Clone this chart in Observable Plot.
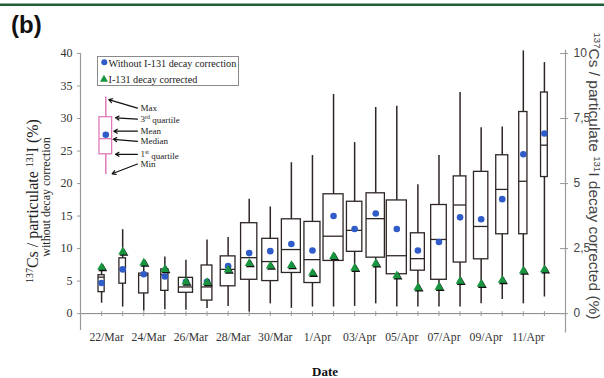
<!DOCTYPE html>
<html><head><meta charset="utf-8">
<script src="https://cdn.jsdelivr.net/npm/d3@7"></script>
<script src="https://cdn.jsdelivr.net/npm/@observablehq/plot@0.6"></script>
<style>
html,body{margin:0;padding:0;background:#fff;}
#wrap{position:relative;width:604px;height:378px;overflow:hidden;}
</style></head><body><div id="wrap"></div>
<script>
// ---- data ----
const dates = ["22/Mar","23/Mar","24/Mar","25/Mar","26/Mar","27/Mar","28/Mar","29/Mar","30/Mar","31/Mar",
  "1/Apr","02/Apr","03/Apr","04/Apr","05/Apr","06/Apr","07/Apr","08/Apr","09/Apr","10/Apr","11/Apr","12/Apr"];
const labelledDates = ["22/Mar","24/Mar","26/Mar","28/Mar","30/Mar","1/Apr","03/Apr","05/Apr","07/Apr","09/Apr","11/Apr"];
const whiskerMin = [1.6,1.0,0.4,0.6,0.5,0.8,1.1,0.25,1.5,0.8,1.0,1.0,1.1,1.5,1.0,1.0,1.0,1.0,1.5,2.15,1.5,2.55];
const quartile1  = [3.3,4.6,3.1,3.5,3.2,2.0,4.2,5.2,5.0,6.25,4.7,8.1,9.5,8.6,6.05,6.6,5.2,7.85,8.35,12.2,12.2,21.0];
const median     = [5.6,6.8,5.9,6.0,4.1,4.1,6.8,8.6,8.0,9.85,8.3,11.9,12.8,14.6,8.9,8.45,11.4,16.7,13.4,19.1,20.35,25.9];
const quartile3  = [5.9,8.5,6.15,6.8,5.5,7.4,8.8,13.9,11.5,14.5,14.1,18.35,17.2,18.5,17.4,12.35,16.7,21.1,21.8,24.35,31.0,34.0];
const whiskerMax = [7.3,12.9,7.9,8.7,8.2,11.3,11.7,17.6,16.4,23.2,24.3,33.7,26.3,31.7,31.9,19.8,24.3,34.0,28.6,28.7,40.4,38.6];
const meanWithoutCorrection = [4.7,6.8,6.05,5.7,4.9,4.9,7.3,9.3,9.6,10.7,9.7,15.0,13.0,15.4,13.0,9.7,11.0,14.8,14.5,17.6,24.5,27.7];
const meanDecayCorrected    = [1.78,2.37,1.95,1.7,1.22,1.2,1.68,1.93,1.83,1.85,1.56,2.2,1.75,1.92,1.46,1.0,1.02,1.25,1.13,1.28,1.64,1.69];
// relative sample weight (box width as share of one day)
const sampleWeight = [0.29,0.31,0.44,0.34,0.67,0.51,0.70,0.77,0.76,0.90,0.76,0.95,0.73,0.87,0.95,0.66,0.74,0.60,0.68,0.57,0.39,0.32];
const leftTicks = [0,5,10,15,20,25,30,35,40];
const rightTicks = [0,2.5,5,7.5,10];
const rightTickLabels = ["0","2,5","5","7,5","10"];
// schematic key box
const keyStats = {min:21.4, q1:24.5, median:26.9, mean:27.5, q3:30.2, max:33.3};
const keyNotes = [
  {label:"Max", labelY:31.6, tipY:32.9, tipX:0.34},
  {label:"3rd quartile", labelY:29.9, tipY:30.1, tipX:0.66},
  {label:"Mean", labelY:28.05, tipY:28.05, tipX:0.58},
  {label:"Median", labelY:26.5, tipY:26.8, tipX:0.55},
  {label:"1st quartile", labelY:24.5, tipY:24.5, tipX:0.66},
  {label:"Min", labelY:23.0, tipY:21.5, tipX:0.50}
];
const legendItems = ["Without I-131 decay correction","I-131 decay corrected"];

// ---- build ----
const RATIO = 4; // left axis 40 ⇔ right axis 10
const rows = dates.map((d,i)=>({i, date:d, min:whiskerMin[i], q1:quartile1[i], med:median[i], q3:quartile3[i],
  max:whiskerMax[i], mean:meanWithoutCorrection[i], corr:meanDecayCorrected[i]*RATIO, w:sampleWeight[i]}));
const keyX = 0.2, keyW = 0.6;
const serif = "Liberation Serif, Times New Roman, serif";
const sans = "Liberation Sans, Arial, sans-serif";
const ink = "#2e2624", pink = "#e07cbb", blue = "#2f5cc8", green = "#17963f";

const plot = Plot.plot({
  width:604, height:378,
  marginLeft:80, marginRight:39, marginTop:53, marginBottom:48,
  x:{type:"linear", domain:[-1,22], axis:null},
  y:{domain:[-2.6,40], axis:null},
  style:{background:"transparent", overflow:"visible"},
  marks:[
    Plot.ruleY([0], {stroke:"#8c8484", strokeWidth:1}),
    Plot.ruleX(rows, {x:"i", y1:0, y2:0, insetTop:-2, insetBottom:-3, stroke:"#9a9a9a"}),
    Plot.ruleX([-1], {y1:-2.6, y2:40, stroke:"#9a9a9a", strokeWidth:1.2}),
    Plot.ruleX([22], {y1:-3.0, y2:40.5, stroke:"#9a9a9a", strokeWidth:1.2}),
    Plot.axisY({anchor:"left", ticks:leftTicks, tickSize:3, tickPadding:5, stroke:"#9a9a9a", fill:"#333",
      fontFamily:serif, fontSize:12}),
    Plot.ruleY(rightTicks.map(v=>v*RATIO), {y:d=>d, x1:22, x2:22, insetLeft:-5, insetRight:-3, stroke:"#9a9a9a"}),
    Plot.axisY({anchor:"right", ticks:rightTicks.map(v=>v*RATIO), tickSize:0, tickPadding:8, fill:"#444",
      tickFormat:d=>rightTickLabels[rightTicks.indexOf(d/RATIO)], fontFamily:sans, fontSize:12}),
    Plot.axisX({anchor:"bottom", ticks:labelledDates.map(l=>dates.indexOf(l)), tickFormat:d=>dates[d],
      tickSize:0, tickPadding:2, dx:5, fill:"#333", fontFamily:serif, fontSize:11.7}),
    // boxes
    Plot.ruleX(rows, {x:"i", y1:"min", y2:"max", stroke:ink, strokeWidth:1.5}),
    Plot.rect(rows, {x1:d=>d.i-d.w/2, x2:d=>d.i+d.w/2, y1:"q1", y2:"q3", fill:"white", stroke:ink, strokeWidth:1.3}),
    Plot.ruleY(rows, {y:"med", x1:d=>d.i-d.w/2, x2:d=>d.i+d.w/2, stroke:ink, strokeWidth:1.3}),
    Plot.dot(rows, {x:"i", y:"mean", r:3.3, fill:blue}),
    Plot.dot(rows, {x:"i", y:"corr", symbol:"triangle", r:3.3, fill:"#111", dx:1.2, dy:1.3}),
    Plot.dot(rows, {x:"i", y:"corr", symbol:"triangle", r:3.3, fill:green}),
    // schematic key
    Plot.ruleX([keyStats], {x:keyX, y1:"min", y2:"max", stroke:pink, strokeWidth:1.5}),
    Plot.rect([keyStats], {x1:keyX-keyW/2, x2:keyX+keyW/2, y1:"q1", y2:"q3", fill:"white", stroke:pink, strokeWidth:1.3}),
    Plot.ruleY([keyStats], {y:"median", x1:keyX-keyW/2, x2:keyX+keyW/2, stroke:pink, strokeWidth:1.3}),
    Plot.dot([keyStats], {x:keyX, y:"mean", r:3.3, fill:blue}),
    Plot.arrow(keyNotes, {x1:1.70, y1:"labelY", x2:"tipX", y2:"tipY", stroke:"#111", strokeWidth:1.2, headLength:5}),
    Plot.text(keyNotes, {x:1.845, y:"labelY", text:"label", textAnchor:"start", fontFamily:serif, fontSize:9, fill:"#222"})
  ]
});
document.getElementById("wrap").appendChild(plot);
const svg = d3.select(plot);

// superscript ordinals in the key
svg.selectAll("text").each(function(){
  const t = d3.select(this);
  const s = t.text();
  const m = /^(\d)(st|nd|rd|th) (.*)$/.exec(s);
  if (m && this.childNodes.length === 1) {
    t.text(null);
    t.append("tspan").text(m[1]);
    t.append("tspan").attr("dy","-0.45em").attr("font-size","6px").text(m[2]);
    t.append("tspan").attr("dy","0.45em").text(" " + m[3]);
  }
});

// top rule and panel label
svg.append("rect").attr("x",0).attr("y",3.5).attr("width",604).attr("height",2.5).attr("fill","#1f5e36");
svg.append("text").attr("x",11).attr("y",33).attr("text-anchor","start").attr("font-family",sans).attr("font-weight","bold")
  .attr("font-size",24).attr("fill","#111").text("(b)");

// legend
const lg = svg.append("g").attr("text-anchor","start");
lg.append("rect").attr("x",97.5).attr("y",56.5).attr("width",141).attr("height",29).attr("fill","white").attr("stroke","#8a8a8a");
lg.append("circle").attr("cx",104.3).attr("cy",62.3).attr("r",3).attr("fill",blue);
lg.append("path").attr("d",d3.symbol(d3.symbolTriangle, 28)()).attr("transform","translate(104,79.5)").attr("fill",green);
lg.append("text").attr("x",108.5).attr("y",66.5).attr("font-family",serif).attr("font-size",10.2).attr("fill","#222").text(legendItems[0]);
lg.append("text").attr("x",108.5).attr("y",82.5).attr("font-family",serif).attr("font-size",10.2).attr("fill","#222").text(legendItems[1]);

// axis titles
const sup = (t) => `<tspan baseline-shift="super" font-size="0.62em">${t}</tspan>`;
svg.append("text").attr("transform","translate(38,201) rotate(-90)").attr("text-anchor","middle")
  .attr("font-family",serif).attr("font-size",16).attr("fill","#222")
  .html(`${sup("137")}Cs / particulate ${sup("131")}I (%)`);
svg.append("text").attr("transform","translate(50,197) rotate(-90)").attr("text-anchor","middle")
  .attr("font-family",serif).attr("font-size",12).attr("fill","#222").text("without decay correction");
svg.append("text").attr("transform","translate(589,176) rotate(90)").attr("text-anchor","middle")
  .attr("font-family",sans).attr("font-size",15.5).attr("fill","#444")
  .html(`${sup("137")}Cs / particulate ${sup("131")}I decay corrected (%)`);
svg.append("text").attr("x",325).attr("y",376).attr("text-anchor","middle").attr("font-family",serif)
  .attr("font-weight","bold").attr("font-size",13).attr("fill","#111").text("Date");
</script>
</body></html>
